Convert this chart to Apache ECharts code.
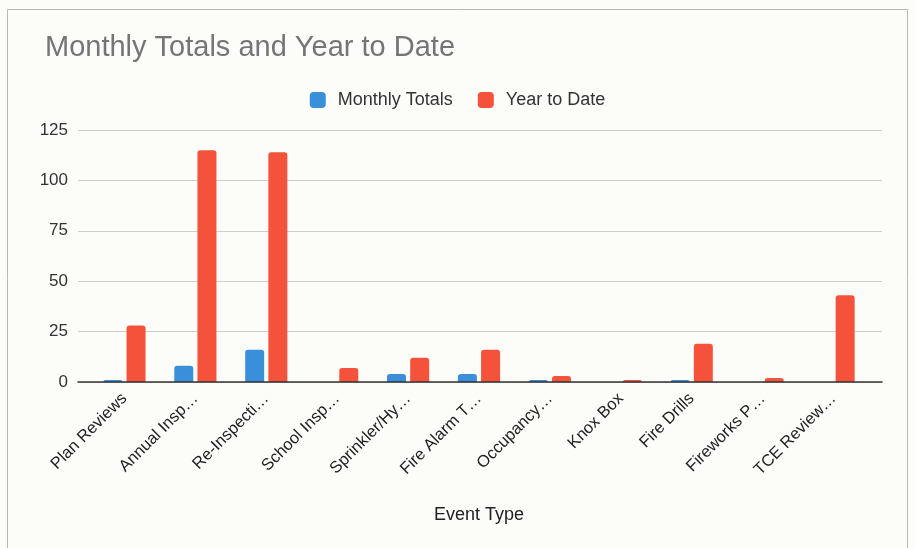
<!DOCTYPE html>
<html><head><meta charset="utf-8">
<script src="https://cdn.jsdelivr.net/npm/echarts@6/dist/echarts.min.js"></script>
<style>html,body{margin:0;padding:0;background:#fcfcf9}#c{width:915px;height:548px}</style>
</head><body><div id="c"></div>
<script>
const categories = ["Plan Reviews","Annual Insp…","Re-Inspecti…","School Insp…","Sprinkler/Hy…","Fire Alarm T…","Occupancy…","Knox Box","Fire Drills","Fireworks P…","TCE Review…"];
const monthlyTotals = [1,8,16,0,4,4,1,0,1,0,0];
const yearToDate = [28,115,114,7,12,16,3,1,19,2,43];
const yTicks = {min:0,max:125,interval:25};
const FONT = '"Liberation Sans", Arial, sans-serif';

const chart = echarts.init(document.getElementById('c'));
chart.setOption({
  backgroundColor:'#fcfcf9',
  textStyle:{fontFamily:FONT},
  graphic:[{type:'rect',shape:{x:7.5,y:9.5,width:900,height:545},style:{fill:'none',stroke:'#b8b8b8',lineWidth:1}}],
  title:{text:'Monthly Totals and Year to Date',left:45,top:33,padding:0,
    textStyle:{fontFamily:FONT,fontSize:29,fontWeight:'normal',color:'#757575'}},
  legend:{top:86,left:'center',itemWidth:16,itemHeight:16,icon:'roundRect',itemGap:25,
    textStyle:{fontFamily:FONT,fontSize:18,color:'#333',padding:[0,0,0,7]}},
  grid:[{left:89,right:46,top:130,bottom:166,containLabel:false},
        {left:78,right:33,top:130,bottom:166,containLabel:false}],
  xAxis:[{type:'category',gridIndex:0,data:categories,
      axisLine:{show:false},axisTick:{show:false},
      axisLabel:{rotate:45,interval:0,fontSize:16.5,color:'#222',margin:14,fontFamily:FONT},
      name:'Event Type',nameLocation:'middle',nameGap:124,
      nameTextStyle:{fontSize:18,color:'#222',fontFamily:FONT}},
    {type:'value',gridIndex:1,min:0,max:1,show:true,axisLabel:{show:false},axisTick:{show:false},
      splitLine:{show:false},axisLine:{show:true,lineStyle:{color:'#333',width:1.5}},z:5}],
  yAxis:[{type:'value',gridIndex:0,min:yTicks.min,max:yTicks.max,interval:yTicks.interval,
      axisLabel:{show:false},splitLine:{show:false},axisLine:{show:false},axisTick:{show:false}},
    {type:'value',gridIndex:1,min:yTicks.min,max:yTicks.max,interval:yTicks.interval,
      axisLine:{show:false},axisTick:{show:false},
      axisLabel:{fontSize:17,color:'#333',margin:10,fontFamily:FONT},
      splitLine:{lineStyle:{color:'#cfcfcf',width:1}}}],
  series:[
    {name:'Monthly Totals',type:'bar',data:monthlyTotals,barWidth:19,barGap:'22%',
      itemStyle:{color:'#3a8fdb',borderRadius:[3,3,0,0]},xAxisIndex:0,yAxisIndex:0},
    {name:'Year to Date',type:'bar',data:yearToDate,barWidth:19,barGap:'22%',
      itemStyle:{color:'#f4523b',borderRadius:[3,3,0,0]},xAxisIndex:0,yAxisIndex:0}
  ]
});
</script></body></html>
